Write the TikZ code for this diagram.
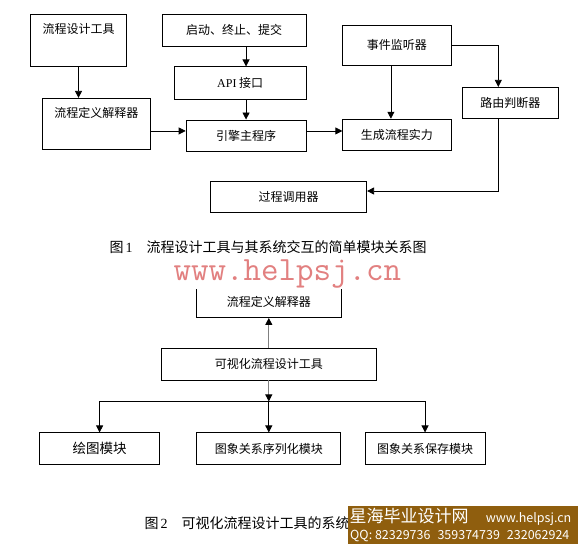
\documentclass[tikz,border=0pt]{standalone}
\usepackage{fontspec}
\setmainfont{Liberation Serif}
\newfontfamily\cjk{Noto Sans CJK SC}
\usepackage{tikz}
\usetikzlibrary{arrows.meta, positioning}
\definecolor{wmpink}{RGB}{226,128,128}
\definecolor{adbrown}{RGB}{143,94,14}
\tikzset{
  module/.style={
    rectangle, draw=black, line width=0.8pt, fill=white,
    inner sep=0pt, minimum height=31pt,
    font=\cjk\fontsize{12}{14}\selectfont
  },
  topmodule/.style={
    module, minimum height=0pt, text height=19pt, text depth=#1
  },
  arrow/.style={-{Triangle[length=7pt,width=7pt]}, line width=0.8pt, draw=black},
  grayarrow/.style={-{Triangle[length=7pt,width=7pt,color=black]}, line width=0.8pt, draw=gray},
  caption/.style={inner sep=0pt, anchor=west, font=\cjk\fontsize{14}{16}\selectfont},
  watermark/.style={
    inner sep=0pt, fill=white, text=wmpink, text height=18pt, text depth=9pt,
    font=\ttfamily\fontsize{34}{36}\selectfont
  },
  banner/.style={rectangle, fill=adbrown, inner sep=0pt},
  adtext/.style={inner sep=0pt, text=white, font=\cjk\fontsize{12.5}{14}\selectfont}
}

\begin{document}
\begin{tikzpicture}[x=1pt, y=-1pt]
\useasboundingbox (0,0) rectangle (578,544);

% Figure 1 boxes
\node[topmodule=32.7pt, minimum width=95.6pt] (tool) at (78.5,40.3) {流程设计工具};
\node[topmodule=32pt, minimum width=108pt] (interp) at (96.3,123.8) {流程定义解释器};
\node[module, minimum width=143.7pt, minimum height=31.7pt] (start) at (234.2,30.2) {启动、终止、提交};
\node[module, minimum width=131.7pt, minimum height=32.3pt, below=20pt of start.south east, anchor=north east] (api) {{\rmfamily API} 接口};
\node[module, minimum width=120pt, below=20pt of api.south east, anchor=north east] (engine) {引擎主程序};
\node[module, minimum width=108.3pt, minimum height=40.7pt] (listener) at (396.9,45.4) {事件监听器};
\node[module, minimum width=108.3pt, below=52.6pt of listener] (instance) {生成流程实力};
\node[module, minimum width=96pt] (router) at (510.3,102.8) {路由判断器};
\node[module, minimum width=156pt, minimum height=30.6pt] (caller) at (288.7,197) {过程调用器};

% Figure 1 arrows
\draw[arrow] (tool) -- (tool |- interp.north);
\draw[arrow] (engine |- start.south) -- (engine |- api.north);
\draw[arrow] (engine |- api.south) -- (engine.north);
\coordinate (ein) at ([yshift=4.5pt]engine.west);
\coordinate (eout) at ([yshift=4.5pt]engine.east);
\draw[arrow] (interp.east |- ein) -- (ein);
\draw[arrow] (eout) -- (eout -| instance.west);
\draw[arrow] ([xshift=-6pt]listener.south) -- ([xshift=-6pt]instance.north);
\draw[arrow] (listener.east) -| ([xshift=-12pt]router.north);
\draw[arrow] ([xshift=-12pt]router.south) |- ([yshift=6pt]caller.east);

\node[caption] (cap1) at (109.3,247.5) {图\hspace{2pt}{\rmfamily 1}\hspace{14pt}流程设计工具与其系统交互的简单模块关系图};

% Figure 2 boxes
\node[module, minimum width=215.7pt, minimum height=31.7pt] (visual) at (268.8,364.2) {可视化流程设计工具};
\node[module, minimum width=144.4pt, minimum height=31.3pt, above=30pt of visual] (def2) {流程定义解释器};
\node[module, minimum width=144pt, minimum height=31.3pt, below=52pt of visual] (serial) {图象关系序列化模块};
\node[module, minimum width=120pt, minimum height=31.3pt, left=36.4pt of serial, font=\cjk\fontsize{13.5}{15}\selectfont] (drawmod) {绘图模块};
\node[module, minimum width=120.3pt, minimum height=31.3pt, right=23.3pt of serial] (savemod) {图象关系保存模块};

\node[watermark, anchor=base west] (wm) at (173.3,280) {www.helpsj.cn};

% Figure 2 arrows
\coordinate (split) at ([yshift=-21pt]visual.south);
\draw[grayarrow] (visual) -- (def2);
\draw[grayarrow] (visual) -- (split);
\draw[arrow] (split) -| (drawmod);
\draw[arrow] (split) -- (serial);
\draw[arrow] (split) -| (savemod);

\node[caption] (cap2) at (144.3,523.5) {图\hspace{2pt}{\rmfamily 2}\hspace{14pt}可视化流程设计工具的系统};

% site banner
\node[banner, anchor=north west, minimum width=230.7pt, minimum height=38.5pt] (ad) at (347.3,505.5) {};
\node[adtext, anchor=base west, font=\cjk\fontsize{17}{19}\selectfont] (adname) at (349.3,522) {星海毕业设计网};
\node[adtext, base right=17pt of adname] (adurl) {www.helpsj.cn};
\node[adtext, anchor=base west] (adqq) at (350,539.5) {QQ: 82329736\hspace{7pt}359374739\hspace{7pt}232062924};

\end{tikzpicture}
\end{document}
